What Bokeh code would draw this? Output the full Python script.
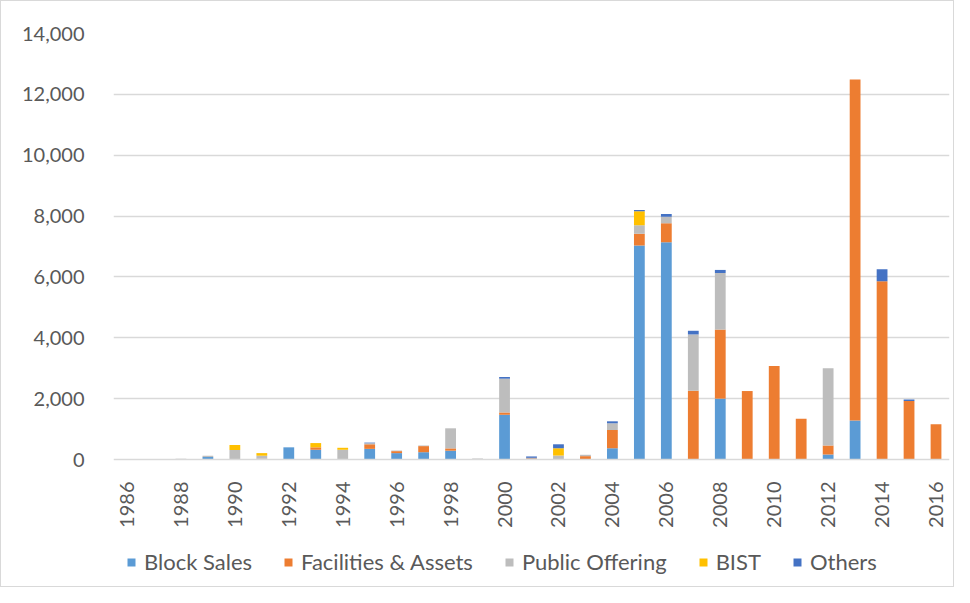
from bokeh.plotting import figure
from bokeh.models import Legend, LegendItem, FixedTicker, NumeralTickFormatter, Range1d
from bokeh.embed import file_html
from bokeh.resources import INLINE
import math

years = list(range(1986, 2017))
series_names = ["Block Sales", "Facilities & Assets", "Public Offering", "BIST", "Others"]
block_sales = [0, 0, 0, 80, 0, 0, 400, 320, 0, 350, 210, 240, 290, 0, 1470, 35, 0, 0, 370, 7030, 7140, 0, 2000, 0, 0, 0, 165, 1280, 0, 0, 0]
facilities = [0, 0, 0, 0, 0, 25, 0, 80, 0, 150, 65, 200, 75, 0, 76, 20, 0, 110, 600, 385, 625, 2260, 2270, 2250, 3070, 1340, 295, 11210, 5860, 1920, 1160]
public_offering = [0, 0, 22, 40, 310, 100, 0, 0, 320, 35, 20, 20, 660, 33, 1110, 0, 130, 45, 220, 285, 210, 1850, 1860, 0, 0, 0, 2540, 0, 0, 0, 0]
bist = [0, 0, 0, 0, 170, 85, 0, 140, 65, 0, 0, 0, 0, 0, 0, 0, 240, 0, 0, 460, 0, 0, 0, 0, 0, 0, 0, 0, 0, 0, 0]
others = [0, 0, 0, 0, 0, 0, 0, 0, 0, 20, 0, 0, 0, 0, 55, 45, 130, 0, 65, 40, 90, 120, 100, 0, 0, 0, 0, 0, 395, 55, 0]
y_ticks = [0, 2000, 4000, 6000, 8000, 10000, 12000, 14000]
x_ticks = list(range(1986, 2017, 2))

colors = ["#5B9BD5", "#ED7D31", "#BDBDBD", "#FFC000", "#4472C4"]
keys = ["block", "fac", "pub", "bist", "oth"]
data = dict(x=years, block=block_sales, fac=facilities, pub=public_offering, bist=bist, oth=others)

FONT = "Lato"
TXT = "#595959"

W, H = 954, 587
TOP, BOTTOM = 32, 1
frame_h = H - TOP - BOTTOM
plot_px = 426  # pixel height of the 0..14000 value span
y_max = 14000
y_min = -(frame_h - plot_px) * y_max / plot_px  # room below zero for labels and legend

p = figure(width=W, height=H, output_backend="svg", toolbar_location=None,
           x_range=Range1d(1985.5, 2016.5), y_range=Range1d(y_min, y_max),
           min_border_left=112, min_border_right=6, min_border_top=TOP, min_border_bottom=BOTTOM)
p.styles = {"border": "1px solid #d9d9d9"}
p.outline_line_color = None
p.background_fill_color = "white"
p.border_fill_color = "white"

renderers = p.vbar_stack(keys, x="x", width=0.4, color=colors, source=data, line_color=None)

p.xgrid.grid_line_color = None
p.ygrid.grid_line_color = "#D9D9D9"
p.ygrid.grid_line_width = 1.6
p.ygrid.ticker = FixedTicker(ticks=y_ticks[1:])

p.yaxis.ticker = FixedTicker(ticks=y_ticks)
p.yaxis.formatter = NumeralTickFormatter(format="0,0")
p.yaxis.axis_line_color = None
p.yaxis.major_tick_line_color = None
p.yaxis.minor_tick_line_color = None
p.yaxis.major_label_standoff = 23
p.yaxis.major_label_text_font = FONT
p.yaxis.major_label_text_font_size = "20px"
p.yaxis.major_label_text_color = TXT

p.xaxis.fixed_location = 0
p.xaxis.ticker = FixedTicker(ticks=x_ticks)
p.xaxis.axis_line_color = "#D9D9D9"
p.xaxis.axis_line_width = 1.6
p.xaxis.major_tick_line_color = None
p.xaxis.minor_tick_line_color = None
p.xaxis.major_label_orientation = math.pi / 2
p.xaxis.major_label_standoff = 16
p.xaxis.major_label_text_font = FONT
p.xaxis.major_label_text_font_size = "20px"
p.xaxis.major_label_text_color = TXT

legend = Legend(items=[LegendItem(label=n, renderers=[r]) for n, r in zip(series_names, renderers)],
                orientation="horizontal", location=(13, 12),
                glyph_width=10, glyph_height=10, label_standoff=8, spacing=31,
                padding=0, margin=0, border_line_color=None, background_fill_alpha=0,
                label_text_font=FONT, label_text_font_size="22px", label_text_color=TXT)
p.add_layout(legend, "center")

open("out.html", "w").write(file_html(p, INLINE))
